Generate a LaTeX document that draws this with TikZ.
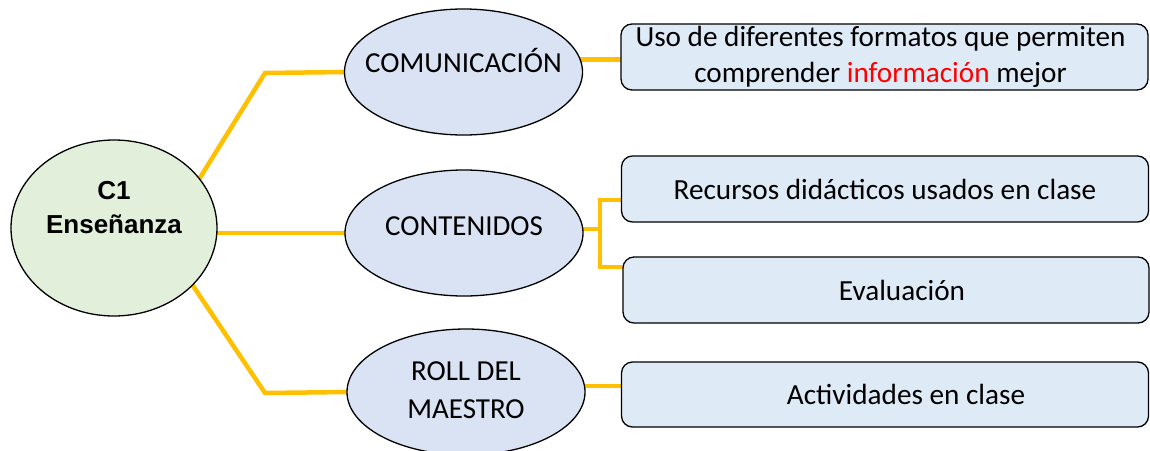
\documentclass[tikz,border=0pt]{standalone}
\usepackage{fontspec}
\setmainfont{Carlito}
\newfontfamily\arialfont{Liberation Sans}
\usetikzlibrary{shapes.geometric,backgrounds}
\definecolor{linegold}{HTML}{FFC000}
\definecolor{ellfill}{HTML}{DAE3F3}
\definecolor{boxfill}{HTML}{DEEBF7}
\definecolor{circfill}{HTML}{E2EFDA}
\newcommand{\zbox}[2]{\raisebox{#1}[0pt][0pt]{\makebox[0pt]{\begin{tabular}[b]{@{}c@{}}#2\end{tabular}}}}
\begin{document}
\begin{tikzpicture}[x=1pt,y=-1pt,
  conn/.style={draw=linegold,line width=4.5pt},
  rootnode/.style={ellipse,draw=black,line width=1.3pt,fill=circfill,minimum width=206pt,minimum height=176pt,inner sep=0pt,outer sep=0pt,font=\arialfont\bfseries\fontsize{26}{34}\selectfont},
  topic/.style={ellipse,draw=black,line width=1.3pt,fill=ellfill,minimum width=238pt,minimum height=126pt,inner sep=0pt,outer sep=0pt},
  leaf/.style={rectangle,rounded corners=11pt,draw=black,line width=1.3pt,fill=boxfill,minimum width=527pt,minimum height=66pt,inner sep=0pt,outer sep=0pt,align=center,font=\fontsize{29.2}{36}\selectfont}
]
\useasboundingbox (0,0) rectangle (1150,450);

\node[rootnode] (c1) at (114,228) {\zbox{-5pt}{C1\\Enseñanza}};
\node[topic,font=\fontsize{29}{38}\selectfont] (comm) at (463.5,72) {\zbox{0pt}{COMUNICACIÓN}};
\node[topic,font=\fontsize{29}{38}\selectfont] (cont) at (464,233) {\zbox{-2pt}{CONTENIDOS}};
\node[topic,font=\fontsize{29}{38}\selectfont] (roll) at (466,392) {\zbox{-26pt}{ROLL DEL\\MAESTRO}};

\node[leaf] (b1) at (884.5,57) {\hspace*{-8pt}Uso de diferentes formatos que permiten\\\hspace*{-8pt}comprender \textcolor{red}{información} mejor};
\node[leaf] (b2) at (885,189) {Recursos didácticos usados en clase};
\node[leaf,minimum width=526pt] (b3) at (886,290) {\hspace*{32pt}Evaluación};
\node[leaf,minimum height=65pt] (b4) at (885,394.5) {\hspace*{42pt}Actividades en clase};

\coordinate (k1) at (265,73);
\coordinate (k2) at (265,393);
\coordinate (bt) at (600,200);
\coordinate (bb) at (600,267);

\begin{scope}[on background layer]
\fill[white] (0,0) rectangle (1150,450);
\draw[conn] (c1.30) -- (k1) -- (comm.west);
\draw[conn] (c1.east |- cont.west) -- (cont.west);
\draw[conn] (c1.-36) -- (k2) -- (roll.west);
\draw[conn] (comm.6) -- (comm.6 -| b1.west);
\draw[conn] (cont.2) -- (cont.2 -| bt);
\draw[conn] (bt -| b2.west) -- (bt) -- (bb) -- (bb -| b3.west);
\draw[conn] (roll.3) -- (roll.3 -| b4.west);
\end{scope}
\end{tikzpicture}
\end{document}
